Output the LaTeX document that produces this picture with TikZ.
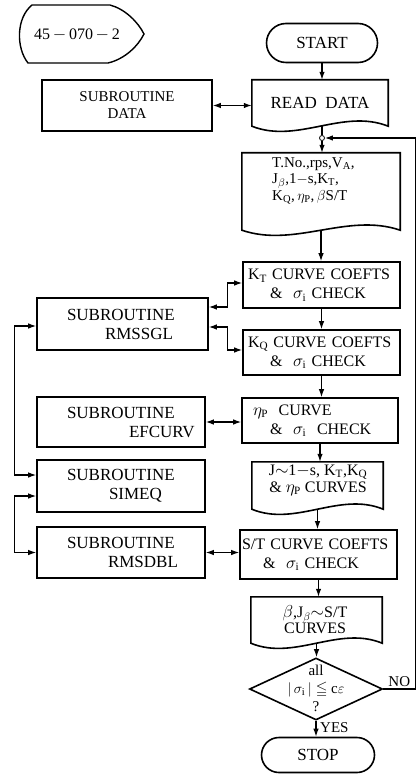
\documentclass[tikz,border=0pt]{standalone}
\usepackage{amssymb}
\usepackage{fontspec}
\setmainfont{Liberation Serif}
\usetikzlibrary{arrows.meta,shapes.geometric,shapes.misc,calc}
\newcommand\DocOutline[1]{%
 \draw[line width=1.6pt] (#1.south west) .. controls ($(#1.south west)!0.3333!(#1.south east)+(0,18)$) and ($(#1.south west)!0.6667!(#1.south east)+(0,-18)$) .. (#1.south east) -- (#1.north east) -- (#1.north west) -- cycle;}
\begin{document}
\begin{tikzpicture}[x=1pt,y=-1pt,
  bx/.style={draw, line width=1.6pt, inner ysep=0pt},
  subr/.style={bx, font=\fontsize{17}{19}\selectfont, align=left, inner xsep=30pt},
  mainbox/.style={bx, font=\fontsize{16}{19}\selectfont, align=left},
  term/.style={draw, rounded rectangle, line width=1.6pt, font=\fontsize{17}{19}\selectfont, inner sep=0pt},
  docn/.style={inner sep=0pt},
  txt/.style={inner sep=0pt, font=\fontsize{15}{17}\selectfont, align=center},
  ln/.style={line width=1.2pt},
  conn/.style={ln, -{Latex[length=8pt,width=5.5pt]}},
  dbl/.style={ln, {Latex[length=8pt,width=5.5pt]}-{Latex[length=8pt,width=5.5pt]}}]
\useasboundingbox (0,0) rectangle (419,775);

% tag shape
\draw[line width=1.4pt] (32,5) -- (110,5) .. controls (125,9) and (138,22) .. (144,34) .. controls (138,46) and (125,59) .. (108,63) -- (28,63) .. controls (16,48) and (16,18) .. (32,5) -- cycle;
\node[txt, font=\fontsize{16}{18}\selectfont] (tag) at (77,35) {45\,$-$\,070\,$-$\,2};

% main column
\node[term, minimum width=111pt, minimum height=39pt] (start) at (322,43) {START};
\node[docn, minimum width=136pt, minimum height=46pt, font=\fontsize{17}{19}\selectfont] (read) at (320,103) {READ\ \ DATA};
\DocOutline{read}
\node[circle, draw, line width=0.8pt, inner sep=0pt, minimum size=5pt] (jn) at (322,138) {};
\node[docn, minimum width=158pt, minimum height=77pt] (data) at (321,191.5) {};
\DocOutline{data}
\node[anchor=north west, align=left, font=\fontsize{15}{16.5}\selectfont, inner sep=0pt] (dtext) at (272,157) {T.No.,rps,V$_{\mathrm{A}}$,\\J$_{\beta}$,1$-$s,K$_{\mathrm{T}}$,\\K$_{\mathrm{Q}}$,\,$\eta_{\mathrm{P}}$,\,$\beta$S/T};

\node[mainbox, inner xsep=5pt, text width=147pt, minimum height=46pt] (kt) at (321.5,285) {\mbox{K$_{\mathrm{T}}$ CURVE COEFTS}\\\mbox{\hspace*{22pt}\&\ \ $\sigma_{\mathrm{i}}$\ CHECK}};
\node[mainbox, inner xsep=5pt, text width=147pt, minimum height=45pt] (kq) at (321.5,352.5) {\mbox{K$_{\mathrm{Q}}$ CURVE COEFTS}\\\mbox{\hspace*{22pt}\&\ \ $\sigma_{\mathrm{i}}$\ CHECK}};
\node[mainbox, inner xsep=11pt, text width=134pt, minimum height=45pt] (eta) at (320,420.5) {\mbox{$\eta_{\mathrm{P}}$\ \ CURVE}\\\mbox{\hspace*{17pt}\&\ \ $\sigma_{\mathrm{i}}$\ \ CHECK}};

\node[docn, minimum width=131pt, minimum height=47pt] (jb) at (317.5,485.5) {};
\DocOutline{jb}
\node[txt, font=\fontsize{16}{17}\selectfont] (jt) at (318,480) {J$\sim$1$-$s,\ K$_{\mathrm{T}}$,K$_{\mathrm{Q}}$\\\&\ $\eta_{\mathrm{P}}$\ CURVES};

\node[mainbox, inner xsep=2pt, text width=153pt, minimum height=49pt] (st) at (318.5,554.5) {\mbox{S/T CURVE COEFTS}\\\mbox{\hspace*{21pt}\&\ \ $\sigma_{\mathrm{i}}$ CHECK}};

\node[docn, minimum width=131pt, minimum height=46pt] (bb) at (316.5,620) {};
\DocOutline{bb}
\node[txt, font=\fontsize{16}{16}\selectfont] (bt) at (315,620) {$\beta$,J$_{\beta}$$\sim$S/T\\CURVES};

\node[diamond, draw, line width=1.6pt, minimum width=133pt, minimum height=62pt, inner sep=0pt] (dia) at (316,689) {};
\node[txt, font=\fontsize{15}{18}\selectfont] (diat) at (316,688) {all\\$|\,\sigma_{\mathrm{i}}\,|\leqq$ c$\varepsilon$\\?};

\node[term, minimum width=113pt, minimum height=35pt] (stop) at (318,755) {STOP};

% subroutines
\node[bx, font=\fontsize{15}{17}\selectfont, align=center, inner xsep=10pt, text width=150pt, minimum height=51pt] (sdata) at (127,105.5) {SUBROUTINE\\DATA};
\node[subr, text width=111pt, minimum height=52pt] (rmssgl) at (122.5,324) {\mbox{SUBROUTINE}\\\mbox{\hspace*{38pt}RMSSGL}};
\node[subr, text width=108pt, minimum height=50pt] (efcurv) at (121,422) {\mbox{SUBROUTINE}\\\mbox{\hspace*{62pt}EFCURV}};
\node[subr, text width=108pt, minimum height=52pt] (simeq) at (121,486) {\mbox{SUBROUTINE}\\\mbox{\hspace*{42pt}SIMEQ}};
\node[subr, text width=108pt, minimum height=51pt] (rmsdbl) at (121,552.5) {\mbox{SUBROUTINE}\\\mbox{\hspace*{41pt}RMSDBL}};

% main flow connectors
\draw[conn] (start.south) -- (start.south |- read.north);
\draw[ln] (jn |- read.south) -- (jn.north);
\draw[conn] (jn.south) -- (jn |- data.north);
\draw[conn] (data.south) -- (data.south |- kt.north);
\draw[conn] (kt.south) -- (kt.south |- kq.north);
\draw[conn] (kq.south) -- (kq.south |- eta.north);
\draw[conn] (eta.south) -- (eta.south |- jb.north);
\draw[conn] (jb.south) -- (jb.south |- st.north);
\draw[conn] (st.south) -- (st.south |- bb.north);
\draw[conn] (bb.south) -- (bb.south |- dia.north);
\draw[conn] (dia.south) -- (dia.south |- stop.north);
\node[anchor=west, inner sep=1pt, font=\fontsize{15}{17}\selectfont] (yes) at (319,728) {YES};
\draw[conn] (dia.east) -- node[above, inner sep=2pt, font=\fontsize{15}{17}\selectfont] (no) {NO} ++(32,0) |- (jn.east);

% subroutine connectors
\draw[dbl] (sdata.east) -- (sdata.east -| read.west);
\draw[dbl] ([yshift=17pt]rmssgl.east) -- ++(19,0) |- ([yshift=2pt]kt.west);
\draw[dbl] ([yshift=-3pt]rmssgl.east) -- ++(19,0) |- ([yshift=2.5pt]kq.west);
\draw[dbl] (efcurv.east) -- (efcurv.east -| eta.west);
\draw[dbl] (rmsdbl.east) -- (rmsdbl.east -| st.west);
\draw[dbl] ([yshift=-2pt]rmssgl.west) -- ++(-22,0) |- ([yshift=11pt]simeq.west);
\draw[dbl] ([yshift=-10pt]simeq.west) -- ++(-22,0) |- (rmsdbl.west);
\end{tikzpicture}
\end{document}
